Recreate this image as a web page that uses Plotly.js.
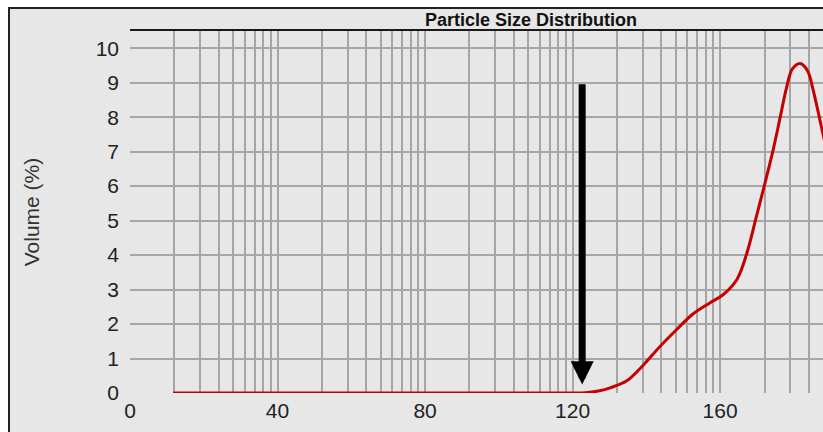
<!DOCTYPE html>
<html>
<head>
<meta charset="utf-8">
<script src="https://cdn.plot.ly/plotly-3.0.1.min.js"></script>
<style>
  html, body { margin: 0; padding: 0; background: #ffffff; }
  #chart { width: 823px; height: 432px; }
</style>
</head>
<body>
<div id="chart"></div>
<script>
// ---- data ----
const particleSize = [11.7, 70, 120.5, 123.4, 126.6, 130.2, 134.8, 139.1, 143.7, 148.3, 152.7, 157.3, 160.8, 164.6, 167.3, 169.8, 172.2, 174.4, 176.3, 178.0, 179.6, 181.7, 183.7, 185.2, 187.1, 189.8];
const volumePct    = [0,    0,  0,     0.01,  0.05,  0.15,  0.36,  0.8,   1.35,  1.85,  2.3,   2.62,  2.85,  3.3,   4.07,  5.1,   6.1,   7.06,  8.0,   8.85,  9.4,   9.56,  9.35,  8.8,   7.9,   6.6];
const xTickVals  = [0, 40, 80, 120, 160];
const xTickText  = ['0', '40', '80', '120', '160'];
const yTickVals  = [0, 1, 2, 3, 4, 5, 6, 7, 8, 9, 10];
const arrowX = 122.6, arrowTop = 9, arrowTip = 0.25;
const chartTitle = 'Particle Size Distribution';
const yTitle = 'Volume (%)';

// ---- layout helpers (pixel geometry) ----
const W = 823, H = 432;
const M = { l: 130, r: 0, t: 31, b: 39 };
const xMax = 187.9, yMax = 10.5;
const pw = W - M.l - M.r, ph = H - M.t - M.b;
const px2paperX = p => (p - M.l) / pw;
const px2paperY = p => (H - M.b - p) / ph;

const font = 'Liberation Sans, Arial, Helvetica, sans-serif';

const trace = {
  x: particleSize,
  y: volumePct,
  type: 'scatter',
  mode: 'lines',
  line: { color: '#c40000', width: 3, shape: 'spline', smoothing: 1 },
  hoverinfo: 'skip',
  showlegend: false
};
// invisible trace on the log grid axis so it renders
const gridTrace = {
  x: [1, Math.pow(10, xMax / 40)], y: [0, 0], xaxis: 'x2', yaxis: 'y',
  mode: 'lines', line: { width: 0 }, hoverinfo: 'skip', showlegend: false
};

const layout = {
  width: W, height: H,
  margin: M,
  paper_bgcolor: '#ffffff',
  plot_bgcolor: 'rgba(0,0,0,0)',
  font: { family: font, color: '#222' },
  title: {
    text: chartTitle,
    font: { family: font, size: 18, color: '#111', weight: 'bold' },
    xref: 'container', yref: 'container',
    x: 425 / W, xanchor: 'left',
    y: 1 - 20 / H, yanchor: 'middle'
  },
  xaxis: {
    range: [0, xMax],
    tickvals: xTickVals, ticktext: xTickText,
    showgrid: false, zeroline: false, showline: false,
    ticks: '', ticklabelstandoff: 3,
    tickfont: { size: 21, color: '#222' },
    fixedrange: true
  },
  xaxis2: {
    type: 'log', overlaying: 'x', side: 'top',
    range: [0, xMax / 40],
    dtick: 'D1', showticklabels: false, ticks: '',
    showgrid: true, gridcolor: '#a6a6a6', gridwidth: 2,
    showline: true, linecolor: '#1a1a1a', linewidth: 2,
    zeroline: false, fixedrange: true
  },
  yaxis: {
    range: [0, yMax],
    tickvals: yTickVals,
    showgrid: true, gridcolor: '#a6a6a6', gridwidth: 2,
    zeroline: false, showline: false,
    ticks: '', ticklabelstandoff: 10,
    tickfont: { size: 21, color: '#222' },
    title: { text: yTitle, font: { size: 21, color: '#333' }, standoff: 50 },
    fixedrange: true
  },
  shapes: [{
    type: 'rect', xref: 'paper', yref: 'paper', layer: 'below',
    x0: px2paperX(9), x1: px2paperX(W + 20),
    y0: px2paperY(H + 20), y1: px2paperY(8),
    fillcolor: '#e7e7e7',
    line: { color: '#222', width: 2 }
  }],
  annotations: [{
    x: arrowX, y: arrowTip, ax: arrowX, ay: arrowTop,
    xref: 'x', yref: 'y', axref: 'x', ayref: 'y',
    text: '', showarrow: true,
    arrowhead: 2, arrowsize: 0.66, arrowwidth: 7, arrowcolor: '#000',
    standoff: 0
  }]
};

Plotly.newPlot('chart', [gridTrace, trace], layout, { staticPlot: true, displayModeBar: false });
</script>
</body>
</html>
